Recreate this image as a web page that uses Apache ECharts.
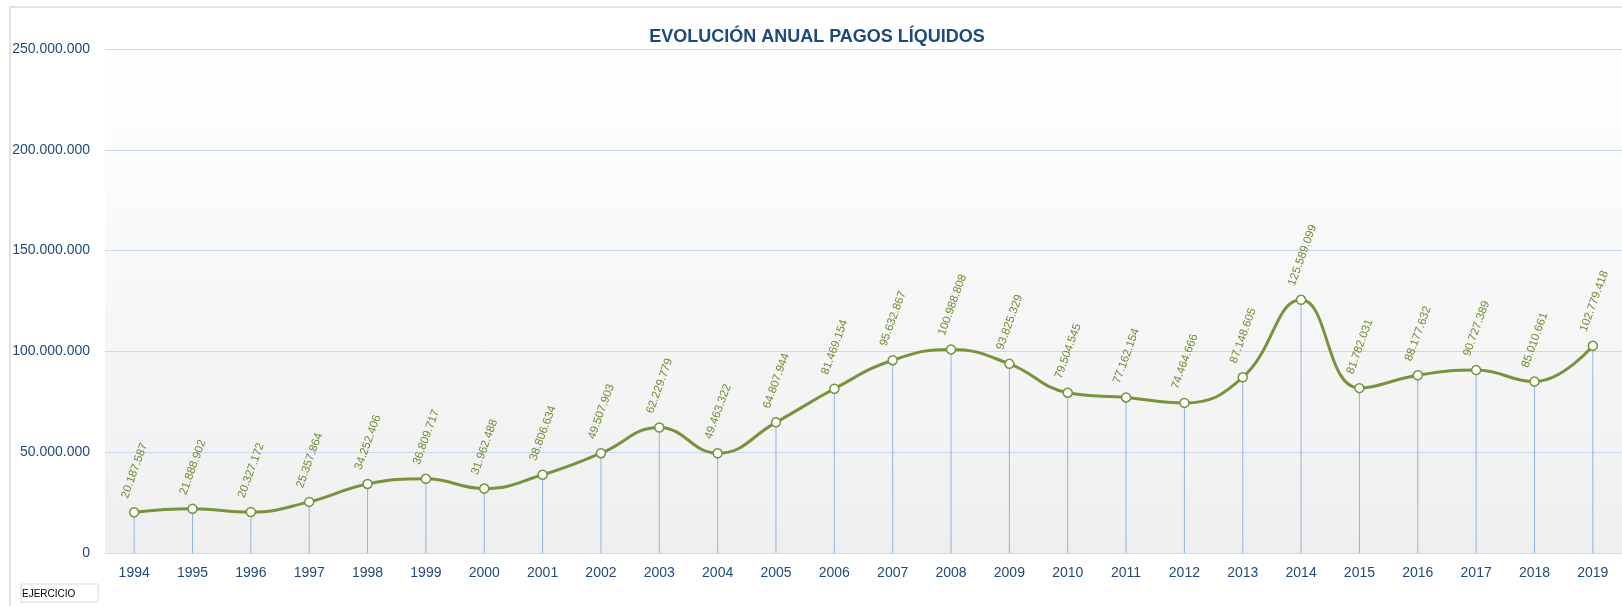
<!DOCTYPE html>
<html>
<head>
<meta charset="utf-8">
<script src="https://cdn.jsdelivr.net/npm/echarts@6/dist/echarts.min.js"></script>
<style>
  html, body { margin: 0; padding: 0; background: #fff; }
  #main { width: 1622px; height: 606px; }
</style>
</head>
<body>
<div id="main"></div>
<script>
// datos
var years = ["1994", "1995", "1996", "1997", "1998", "1999", "2000", "2001", "2002", "2003",
  "2004", "2005", "2006", "2007", "2008", "2009", "2010", "2011", "2012", "2013",
  "2014", "2015", "2016", "2017", "2018", "2019"];
var pagosLiquidos = [20187587, 21888902, 20327172, 25357864, 34252406, 36809717, 31962488,
  38806634, 49507903, 62229779, 49463322, 64807944, 81469154, 95632867, 100988808,
  93825329, 79504545, 77162154, 74464666, 87148605, 125589099, 81782031, 88177632,
  90727389, 85010661, 102779418];
var yTicks = [0, 50000000, 100000000, 150000000, 200000000, 250000000];

function puntos(v) {
  return String(Math.round(v)).replace(/\B(?=(\d{3})+(?!\d))/g, ".");
}

var myChart = echarts.init(document.getElementById("main"));
var option = {
  animation: false,
  textStyle: { fontFamily: "Liberation Sans" },
  title: {
    text: "EVOLUCIÓN ANUAL PAGOS LÍQUIDOS",
    left: 812,
    textAlign: "center",
    top: 23,
    textStyle: { color: "#1F497D", fontSize: 18, fontWeight: "bold", fontFamily: "Liberation Sans" }
  },
  graphic: [
    {
      type: "rect",
      shape: { x: 10, y: 7, width: 1700, height: 700 },
      style: { fill: null, stroke: "#e2e2e2", lineWidth: 2 },
      z: 0
    },
    {
      type: "rect",
      shape: { x: 21, y: 584, width: 77, height: 18 },
      style: { fill: "#fff", stroke: "#d9d9d9", lineWidth: 1 }
    },
    {
      type: "text",
      x: 22, y: 594,
      style: { text: "EJERCICIO", fill: "#000", font: "10px Liberation Sans", verticalAlign: "middle" }
    }
  ],
  grid: {
    left: 105,
    right: 0,
    top: 49,
    bottom: 53,
    show: true,
    borderWidth: 0,
    backgroundColor: new echarts.graphic.LinearGradient(0, 0, 0, 1, [
      { offset: 0, color: "#ffffff" },
      { offset: 1, color: "#efefef" }
    ])
  },
  xAxis: {
    type: "category",
    data: years,
    boundaryGap: true,
    axisTick: { show: false },
    axisLine: { lineStyle: { color: "#d9d9d9", width: 1 } },
    axisLabel: { color: "#1F497D", fontSize: 14, margin: 13 }
  },
  yAxis: {
    type: "value",
    min: yTicks[0],
    max: yTicks[yTicks.length - 1],
    interval: 50000000,
    axisLine: { show: false },
    axisTick: { show: false },
    splitLine: { lineStyle: { color: "#c6d9f0", width: 1 } },
    axisLabel: { color: "#1F497D", fontSize: 14, margin: 15, formatter: puntos }
  },
  series: [
    {
      // lineas de caida
      type: "bar",
      data: pagosLiquidos,
      barWidth: 1,
      silent: true,
      itemStyle: { color: "#8eb4e3" },
      z: 1
    },
    {
      type: "line",
      data: pagosLiquidos,
      smooth: 0.45,
      symbol: "circle",
      symbolSize: 9,
      lineStyle: { color: "#77933C", width: 3 },
      itemStyle: { color: "#ffffff", borderColor: "#77933C", borderWidth: 1.5 },
      label: {
        show: true,
        position: "top",
        distance: 9,
        rotate: 70,
        align: "left",
        verticalAlign: "middle",
        offset: [-3, -9],
        color: "#6f8d33",
        fontSize: 11.5,
        formatter: function (p) { return puntos(p.value); }
      },
      z: 3
    }
  ]
};
myChart.clear();
myChart.setOption(option);
</script>
</body>
</html>
